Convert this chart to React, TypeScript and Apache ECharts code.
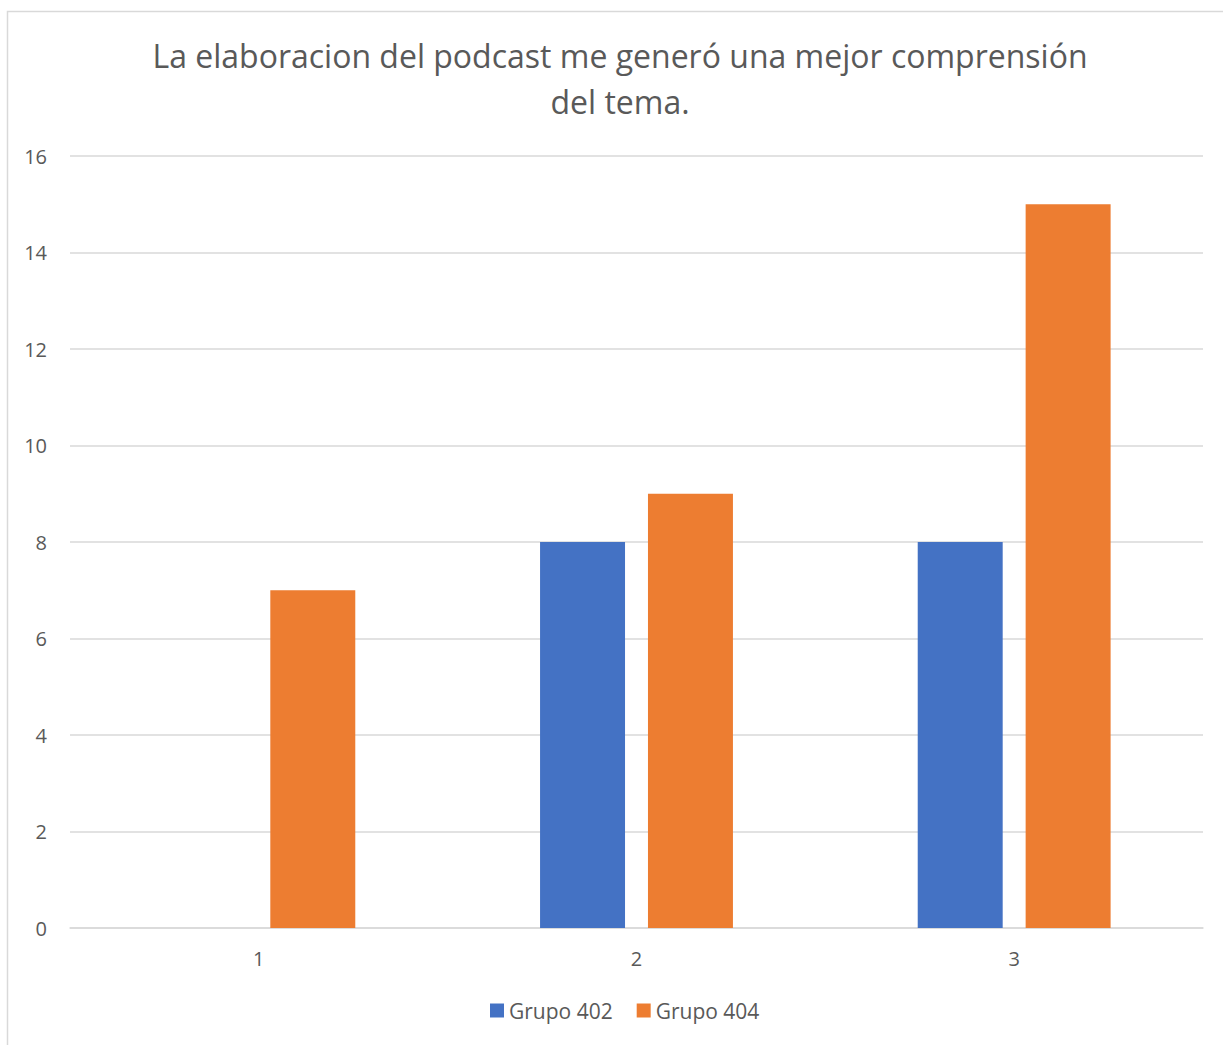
import React, { useEffect, useRef } from "react";
import * as echarts from "echarts";

const categories = ["1", "2", "3"];
const grupo402 = [0, 8, 8];
const grupo404 = [7, 9, 15];
const seriesNames = ["Grupo 402", "Grupo 404"];
const titleText = "La elaboracion del podcast me generó una mejor comprensión\ndel tema.";

export default function App() {
  const ref = useRef<HTMLDivElement>(null);
  useEffect(() => {
    const chart = echarts.init(ref.current!, null, { renderer: "svg" });
    const font = "'Open Sans', 'Liberation Sans', sans-serif";
    chart.setOption({
      animation: false,
      backgroundColor: "#ffffff",
      textStyle: { fontFamily: font },
      graphic: [
        {
          type: "rect",
          shape: { x: 7.5, y: 11.5, width: 1400, height: 1200 },
          style: { fill: "none", stroke: "#D9D9D9", lineWidth: 1.5 },
          silent: true,
        },
      ],
      title: {
        text: titleText,
        left: 615,
        textAlign: "center",
        top: 27,
        textStyle: {
          fontFamily: font,
          fontSize: 32,
          fontWeight: "normal",
          color: "#595959",
          lineHeight: 46,
        },
      },
      legend: {
        bottom: 19,
        left: 485,
        itemWidth: 14,
        itemHeight: 14,
        itemGap: 24,
        icon: "rect",
        data: seriesNames,
        textStyle: { fontFamily: font, fontSize: 21, color: "#595959" },
      },
      grid: { left: 70, right: 20, top: 156, bottom: 117, containLabel: false },
      xAxis: {
        type: "category",
        data: categories,
        axisLine: { show: true, lineStyle: { color: "#D9D9D9", width: 1.5 } },
        axisTick: { show: false },
        axisLabel: { fontFamily: font, fontSize: 20, color: "#595959", margin: 20 },
      },
      yAxis: {
        type: "value",
        min: 0,
        max: 16,
        interval: 2,
        axisLine: { show: false },
        axisTick: { show: false },
        splitLine: { lineStyle: { color: "#D9D9D9", width: 1.5 } },
        axisLabel: { fontFamily: font, fontSize: 20, color: "#595959", margin: 23 },
      },
      series: [
        {
          name: seriesNames[0],
          type: "bar",
          data: grupo402,
          barWidth: "22.5%",
          barGap: "27%",
          itemStyle: { color: "#4472C4" },
        },
        {
          name: seriesNames[1],
          type: "bar",
          data: grupo404,
          barWidth: "22.5%",
          barGap: "27%",
          itemStyle: { color: "#ED7D31" },
        },
      ],
    });
    return () => chart.dispose();
  }, []);
  return (
    <div
      ref={ref}
      style={{ position: "fixed", left: 0, top: 0, width: 1223, height: 1045 }}
    />
  );
}
